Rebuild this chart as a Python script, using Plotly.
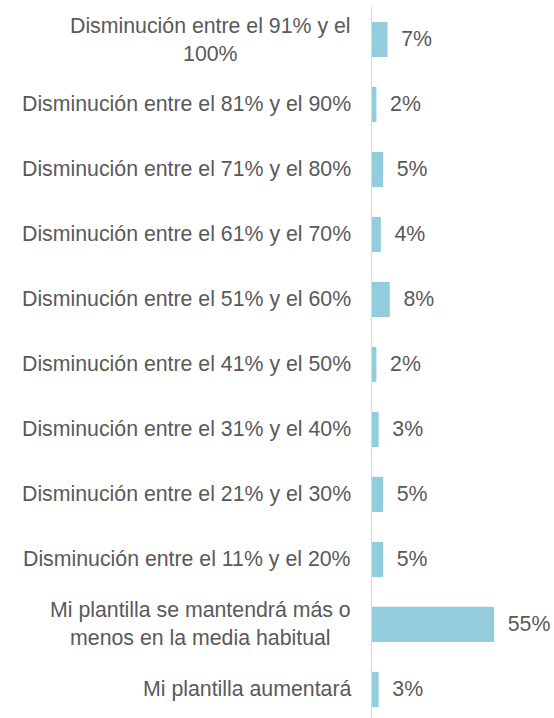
import plotly.graph_objects as go

categories = [
    "Disminución entre el 91% y el<br>100%",
    "Disminución entre el 81% y el 90%",
    "Disminución entre el 71% y el 80%",
    "Disminución entre el 61% y el 70%",
    "Disminución entre el 51% y el 60%",
    "Disminución entre el 41% y el 50%",
    "Disminución entre el 31% y el 40%",
    "Disminución entre el 21% y el 30%",
    "Disminución entre el 11% y el 20%",
    "Mi plantilla se mantendrá más o<br>menos en la media habitual",
    "Mi plantilla aumentará",
]
values = [7, 2, 5, 4, 8, 2, 3, 5, 5, 55, 3]

TEXT = "#595959"
FONT = "Liberation Sans, Arial, sans-serif"
FS = 21.3

fig = go.Figure(go.Bar(
    y=categories,
    x=values,
    orientation="h",
    marker=dict(color="#93CDDD", line=dict(width=0)),
    width=0.54,
    text=[f"\u2002{v}%" for v in values],
    textposition="outside",
    textfont=dict(size=FS, color=TEXT, family=FONT),
    cliponaxis=False,
    hoverinfo="skip",
))

for c in categories:
    fig.add_annotation(
        x=0, xref="paper", xanchor="right", xshift=-19,
        y=c, yref="y", text=c, showarrow=False, align="center",
        font=dict(size=FS, color=TEXT, family=FONT),
    )

fig.update_layout(
    width=554, height=718,
    margin=dict(l=372, r=0, t=7, b=0),
    paper_bgcolor="white", plot_bgcolor="white",
    showlegend=False,
    xaxis=dict(range=[0, 82], visible=False, fixedrange=True),
    yaxis=dict(
        categoryorder="array", categoryarray=categories,
        range=[10.44, -0.5], showticklabels=False, ticks="",
        showline=True, linecolor="#D9D9D9", linewidth=1,
        showgrid=False, zeroline=False, fixedrange=True,
    ),
)

fig.write_html(
    "out.html",
    config={"displayModeBar": False, "staticPlot": True},
    post_script="document.body.style.margin='0';document.body.style.overflow='hidden';",
)
